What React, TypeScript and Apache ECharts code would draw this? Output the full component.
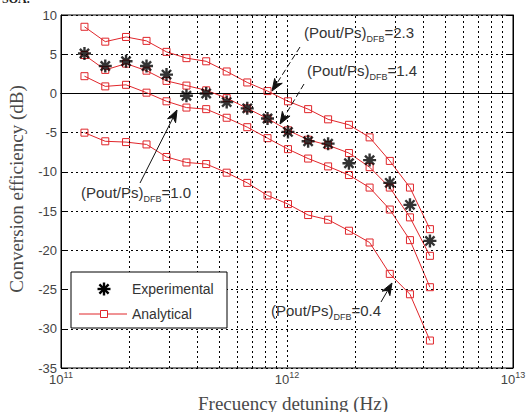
import React, { useEffect, useRef } from 'react';
import * as echarts from 'echarts';

// Frequency detuning (Hz) shared by all curves
const freqHz = [1.27e11, 1.57e11, 1.94e11, 2.39e11, 2.93e11, 3.59e11, 4.39e11, 5.41e11, 6.67e11, 8.2e11,
  1.01e12, 1.24e12, 1.52e12, 1.88e12, 2.32e12, 2.85e12, 3.5e12, 4.29e12];

// Analytical curves (dB), one per (Pout/Ps)_DFB value
const analytical23 = [8.5, 6.6, 7.2, 6.7, 5.3, 4.5, 4.1, 2.8, 1.4, 0.3, -1.0, -2.0, -3.3, -4.0, -5.6, -8.6, -12.0, -17.3];
const analytical14 = [4.9, 3.0, 3.8, 2.9, 1.6, 1.0, 0.4, -0.6, -1.9, -3.2, -4.7, -5.9, -6.6, -7.6, -9.4, -12.0, -15.8, -20.7];
const analytical10 = [2.2, 0.9, 1.1, 0.1, -1.0, -1.8, -2.0, -3.1, -4.3, -5.7, -7.1, -8.3, -9.3, -10.4, -12.0, -14.8, -18.7, -24.7];
const analytical04 = [-5.0, -6.1, -6.2, -6.5, -8.1, -8.8, -9.0, -10.1, -11.4, -13.0, -14.1, -15.5, -16.1, -17.5, -19.0, -23.0, -25.6, -31.5];

// Experimental points (dB)
const experimental = [5.1, 3.5, 4.1, 3.5, 2.4, -0.3, 0.0, -1.1, -1.9, -3.2, -4.9, -6.1, -6.4, -8.9, -8.5, -11.4, -14.2, -18.8];

// Minor (log) grid positions
const minorGridHz = [2e11, 3e11, 4e11, 5e11, 6e11, 7e11, 8e11, 9e11, 2e12, 3e12, 4e12, 5e12, 6e12, 7e12, 8e12, 9e12];

const RED = '#e0262b';
const GRID_DASH = [2, 3];
const STAR_PATH = 'path://M0 -10 L0 10 M-10 0 L10 0 M-7.07 -7.07 L7.07 7.07 M-7.07 7.07 L7.07 -7.07';

function arrow(x1: number, y1: number, x2: number, y2: number, dashed: boolean) {
  const dx = x2 - x1, dy = y2 - y1;
  const L = Math.hypot(dx, dy);
  const ux = dx / L, uy = dy / L;
  const px = -uy, py = ux;
  const hl = 12, hw = 4.5;
  const bx = x2 - ux * hl, by = y2 - uy * hl;
  const nx = x2 - ux * hl * 0.7, ny = y2 - uy * hl * 0.7;
  return [
    {
      type: 'line', shape: { x1, y1, x2: nx, y2: ny },
      style: { stroke: '#111', lineWidth: 1, lineDash: dashed ? [6, 3] : null }, z: 100,
    },
    {
      type: 'polygon',
      shape: { points: [[x2, y2], [bx + px * hw, by + py * hw], [nx, ny], [bx - px * hw, by - py * hw]] },
      style: { fill: '#111', stroke: '#111', lineWidth: 1 }, z: 100,
    },
  ];
}

function label(x: number, y: number, val: string) {
  return {
    type: 'text', x, y, z: 100,
    style: {
      text: '(Pout/Ps){s|DFB}=' + val,
      fontSize: 15, fontFamily: 'Liberation Sans', fill: '#333',
      verticalAlign: 'middle', align: 'left',
      rich: { s: { fontSize: 9, fontFamily: 'Liberation Sans', fill: '#333', padding: [14, 0, 0, 0] } },
    },
  };
}

function starLines(cx: number, cy: number, r: number) {
  const segs = [[0, -r, 0, r], [-r, 0, r, 0], [-r * 0.707, -r * 0.707, r * 0.707, r * 0.707], [-r * 0.707, r * 0.707, r * 0.707, -r * 0.707]];
  return segs.map((s) => ({
    type: 'line', z: 101,
    shape: { x1: cx + s[0], y1: cy + s[1], x2: cx + s[2], y2: cy + s[3] },
    style: { stroke: '#000', lineWidth: 2.4 },
  }));
}

export default function App() {
  const ref = useRef<HTMLDivElement>(null);
  useEffect(() => {
    if (!ref.current) return;
    const chart = echarts.init(ref.current, null, { renderer: 'svg' });
    const mk = (arr: number[]) => freqHz.map((f, i) => [f, arr[i]]);
    const lineSeries = (arr: number[]) => ({
      type: 'line', name: 'Analytical', data: mk(arr), z: 3,
      symbol: 'rect', symbolSize: 7, showAllSymbol: true,
      lineStyle: { color: RED, width: 1 },
      itemStyle: { color: 'rgba(255,255,255,0)', borderColor: RED, borderWidth: 1 },
    });
    const tickLabel = { fontSize: 13, fontFamily: 'Liberation Sans', color: '#444' };
    const option: any = {
      animation: false,
      backgroundColor: '#fff',
      grid: { left: 61, right: 16, top: 15, bottom: 44, show: true, borderColor: '#000', borderWidth: 1 },
      xAxis: [
        {
          type: 'log', logBase: 10, min: 1e11, max: 1e13, position: 'bottom', splitNumber: 2,
          axisLine: { show: true, lineStyle: { color: '#000', width: 1 } },
          axisTick: { show: true, inside: true, length: 5, lineStyle: { color: '#000' } },
          axisLabel: {
            margin: 2,
            formatter: (v: number) => '{b|10}{sup|' + Math.round(Math.log10(v)) + '}',
            rich: {
              b: { ...tickLabel },
              sup: { fontSize: 9, fontFamily: 'Liberation Sans', color: '#444', padding: [0, 0, 9, 0] },
            },
          },
          splitLine: { show: true, lineStyle: { color: '#000', type: GRID_DASH, width: 1 } },
        },
        {
          type: 'log', logBase: 10, min: 1e11, max: 1e13, position: 'top', splitNumber: 2,
          axisLine: { show: true, lineStyle: { color: '#000', width: 1 } },
          axisTick: { show: true, inside: true, length: 5, lineStyle: { color: '#000' } },
          axisLabel: { show: false }, splitLine: { show: false },
        },
      ],
      yAxis: [
        {
          type: 'value', min: -35, max: 10, interval: 5,
          axisLine: { show: true, lineStyle: { color: '#000', width: 1 } },
          axisTick: { show: true, inside: true, length: 5, lineStyle: { color: '#000' } },
          axisLabel: { ...tickLabel, margin: 4 },
          splitLine: { show: true, lineStyle: { color: '#000', type: GRID_DASH, width: 1 } },
        },
        {
          type: 'value', min: -35, max: 10, interval: 5, position: 'right',
          axisLine: { show: true, lineStyle: { color: '#000', width: 1 } },
          axisTick: { show: true, inside: true, length: 5, lineStyle: { color: '#000' } },
          axisLabel: { show: false }, splitLine: { show: false },
        },
      ],
      series: [
        {
          type: 'line', data: [], z: 1, silent: true,
          markLine: {
            silent: true, symbol: 'none', label: { show: false }, animation: false,
            lineStyle: { color: '#000', type: GRID_DASH, width: 1 },
            emphasis: { disabled: true },
            data: minorGridHz.map((v) => ({ xAxis: v })),
          },
        },
        lineSeries(analytical23),
        lineSeries(analytical14),
        lineSeries(analytical10),
        lineSeries(analytical04),
        {
          type: 'scatter', name: 'Experimental', data: mk(experimental), z: 5,
          symbol: STAR_PATH, symbolSize: 13,
          itemStyle: { color: '#000', borderColor: '#000', borderWidth: 2.4 },
        },
      ],
      graphic: [
        {
          type: 'text', x: 2, y: 5, z: 100,
          style: { text: 'SOA.', fontSize: 12, fontWeight: 'bold', fontFamily: 'Liberation Serif', fill: '#222', verticalAlign: 'bottom' },
        },
        {
          type: 'text', x: 16, y: 189, rotation: Math.PI / 2, z: 100,
          style: { text: 'Conversion efficiency (dB)', fontSize: 19, fontFamily: 'Liberation Serif', fill: '#4a4a4a', align: 'center', verticalAlign: 'middle' },
        },
        {
          type: 'text', x: 293, y: 403, z: 100,
          style: { text: 'Frecuency detuning (Hz)', fontSize: 19, fontFamily: 'Liberation Serif', fill: '#4a4a4a', align: 'center', verticalAlign: 'middle' },
        },
        label(304, 32, '2.3'),
        label(307, 70, '1.4'),
        label(81, 192, '1.0'),
        label(271, 310, '0.4'),
        ...arrow(300, 47, 272, 91, true),
        ...arrow(304, 84, 280, 124, true),
        ...arrow(140, 183, 177, 110, false),
        ...arrow(381, 302, 392, 283, false),
        {
          type: 'rect', z: 99,
          shape: { x: 71, y: 272, width: 156, height: 56 },
          style: { fill: '#fff', stroke: '#000', lineWidth: 1 },
        },
        ...starLines(104, 289, 6.5),
        {
          type: 'text', x: 132, y: 289, z: 101,
          style: { text: 'Experimental', fontSize: 14, fontFamily: 'Liberation Sans', fill: '#333', verticalAlign: 'middle' },
        },
        {
          type: 'line', z: 101, shape: { x1: 79, y1: 314, x2: 127, y2: 314 },
          style: { stroke: RED, lineWidth: 1 },
        },
        {
          type: 'rect', z: 102, shape: { x: 100.5, y: 310.5, width: 7, height: 7 },
          style: { fill: '#fff', stroke: RED, lineWidth: 1 },
        },
        {
          type: 'text', x: 132, y: 314, z: 101,
          style: { text: 'Analytical', fontSize: 14, fontFamily: 'Liberation Sans', fill: '#333', verticalAlign: 'middle' },
        },
      ],
    };
    chart.setOption(option);
    return () => chart.dispose();
  }, []);
  return <div ref={ref} style={{ position: 'fixed', left: 0, top: 0, width: 529, height: 412, background: '#fff' }} />;
}
